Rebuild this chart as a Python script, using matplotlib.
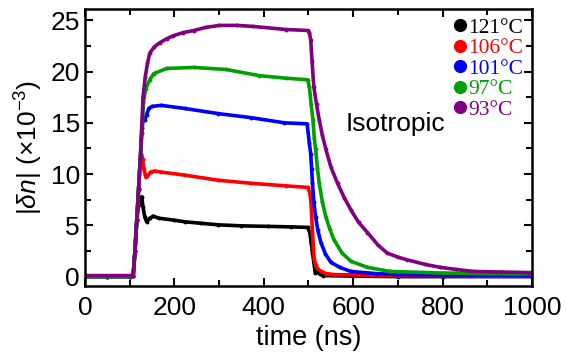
import numpy as np
import matplotlib
matplotlib.use("Agg")
import matplotlib.pyplot as plt
from matplotlib.lines import Line2D
from matplotlib.ticker import MultipleLocator

plt.rcParams["font.family"] = ["Liberation Sans", "DejaVu Sans"]
plt.rcParams["mathtext.fontset"] = "custom"
plt.rcParams["mathtext.rm"] = "Liberation Sans"
plt.rcParams["mathtext.it"] = "Liberation Sans:italic"

# time (ns) and |dn| (x1e-3)
t_121 = [0, 50, 100, 108, 112, 116, 120, 124, 127, 130, 134, 138, 145, 153, 165, 200, 223, 260, 298, 350,
         410, 460, 498, 503, 506, 509, 512, 515, 519, 525, 533, 600, 700, 800, 1000]
v_121 = [0.0, 0.0, 0.0, 0.1, 2.5, 5.5, 7.0, 7.5, 7.8, 6.8, 5.8, 5.35, 5.7, 5.9, 5.7, 5.5, 5.35, 5.2, 5.05, 4.95,
         4.9, 4.85, 4.8, 4.3, 3.3, 2.3, 1.4, 0.4, 0.5, 0.25, 0.1, 0.05, 0.0, 0.0, 0.0]

t_106 = [0, 50, 100, 108, 112, 116, 120, 123, 126, 129, 132, 136, 140, 147, 156, 170, 223, 298, 372, 450,
         498, 503, 506, 509, 511, 513, 516, 520, 528, 540, 557, 700, 1000]
v_106 = [0.0, 0.0, 0.0, 0.1, 2.5, 5.5, 8.5, 11.0, 12.0, 11.5, 10.5, 9.7, 9.8, 10.2, 10.3, 10.2, 9.9, 9.4, 9.1, 8.85,
         8.7, 8.2, 7.0, 4.3, 2.8, 1.7, 1.1, 0.8, 0.5, 0.3, 0.2, 0.1, 0.05]

t_101 = [0, 50, 100, 108, 112, 116, 120, 124, 127, 130, 134, 138, 143, 150, 171, 223, 298, 372, 446, 497,
         502, 505, 507, 509, 512, 516, 521, 528, 538, 550, 570, 595, 650, 700, 1000]
v_101 = [0.0, 0.0, 0.0, 0.1, 2.5, 5.5, 8.5, 11.5, 14.0, 15.3, 15.3, 15.8, 16.4, 16.6, 16.7, 16.4, 15.9, 15.5, 15.0, 14.9,
         13.0, 12.0, 10.5, 9.1, 7.3, 5.8, 4.5, 3.3, 2.2, 1.4, 0.9, 0.5, 0.3, 0.2, 0.1]

t_97 = [0, 50, 100, 108, 112, 116, 120, 124, 128, 131, 136, 145, 154, 183, 243, 316, 390, 450, 498,
        502, 506, 510, 513, 516, 520, 524, 531, 539, 548, 557, 575, 595, 632, 683, 800, 1000]
v_97 = [0.0, 0.0, 0.0, 0.1, 2.5, 5.5, 8.5, 11.5, 14.5, 17.0, 18.3, 19.2, 19.8, 20.3, 20.4, 20.2, 19.6, 19.35, 19.2,
        18.5, 16.8, 15.3, 13.5, 12.4, 10.6, 9.1, 7.3, 5.8, 4.6, 3.6, 2.3, 1.5, 0.9, 0.5, 0.35, 0.25]

t_93 = [0, 50, 100, 108, 112, 116, 120, 124, 127, 130, 135, 140, 145, 155, 167, 183, 198, 220, 243, 270, 301,
        340, 376, 450, 500, 502, 505, 508, 512, 518, 524, 531, 539, 550, 565, 580, 595, 612, 632, 655, 676,
        700, 720, 760, 795, 830, 870, 930, 990, 1000]
v_93 = [0.1, 0.1, 0.1, 0.1, 2.5, 5.5, 8.5, 11.5, 14.5, 17.5, 19.5, 20.8, 21.8, 22.4, 22.8, 23.2, 23.5, 23.8, 24.0,
        24.3, 24.5, 24.5, 24.4, 24.1, 24.0, 23.8, 23.1, 21.0, 18.5, 16.8, 15.3, 13.8, 12.4, 10.7, 9.1, 7.7,
        6.5, 5.3, 4.3, 3.1, 2.3, 1.9, 1.65, 1.2, 0.9, 0.7, 0.5, 0.45, 0.4, 0.4]

labels = ["121\u00b0C", "106\u00b0C", "101\u00b0C", "97\u00b0C", "93\u00b0C"]
colors = ["#000000", "#ff0000", "#0000ff", "#00a000", "#800080"]
series = [(t_121, v_121), (t_106, v_106), (t_101, v_101), (t_97, v_97), (t_93, v_93)]

fig = plt.figure(figsize=(5.66, 3.6), dpi=100)
ax = fig.add_axes([0.150, 0.206, 0.790, 0.769])

for (t, v), c in zip(series, colors):
    ax.plot(t, v, color=c, lw=2.6, marker="o", ms=2.8, mew=0)

ax.set_xlim(0, 1000)
ax.set_ylim(-0.9, 26.1)
ax.xaxis.set_major_locator(MultipleLocator(200))
ax.xaxis.set_minor_locator(MultipleLocator(100))
ax.yaxis.set_major_locator(MultipleLocator(5))
ax.yaxis.set_minor_locator(MultipleLocator(2.5))
ax.tick_params(which="both", direction="in", top=True, right=True, width=1.5, labelsize=19)
ax.tick_params(which="major", length=6)
ax.tick_params(which="minor", length=4)
ax.tick_params(axis="x", pad=7)
for s in ax.spines.values():
    s.set_linewidth(1.8)

ax.set_xlabel("time (ns)", fontsize=19.5, labelpad=4)
ax.set_ylabel(r"$|\delta n|$ ($\times$10$^{-3}$)", fontsize=19, labelpad=4)

ax.text(583, 14.2, "Isotropic", fontsize=19, va="baseline")

handles = [Line2D([], [], ls="", marker="o", ms=8.5, color=c) for c in colors]
ax.legend(handles, labels, loc="upper right", frameon=False, labelcolor=colors,
          prop={"family": "Liberation Serif", "size": 15.5}, handlelength=0.6,
          handletextpad=0.1, labelspacing=0.02, borderaxespad=0.1, borderpad=0.3)

fig.savefig("out.png", dpi=100)
